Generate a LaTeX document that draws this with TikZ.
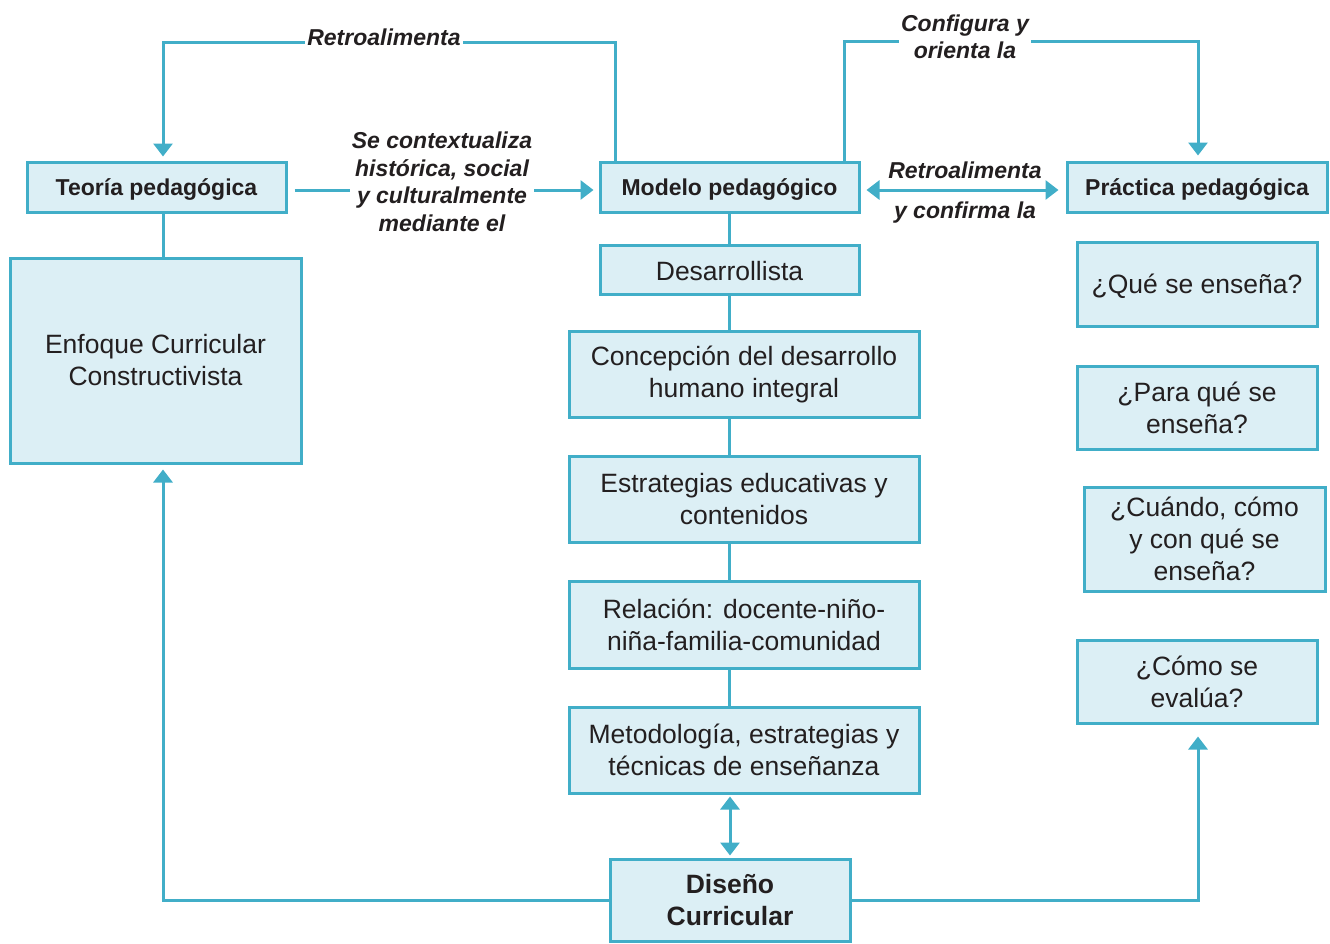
\documentclass[tikz,border=0pt]{standalone}
\usepackage{fontspec}
\setmainfont{Liberation Sans}
\usetikzlibrary{arrows.meta}
\definecolor{linec}{HTML}{41AEC8}
\definecolor{boxc}{HTML}{DCEFF5}
\definecolor{ink}{HTML}{231F20}
\newcommand\regtxt{\fontsize{26.5}{32}\selectfont}
\newcommand\boldtxt{\fontsize{23}{28}\selectfont\bfseries}
\newcommand\bigboldtxt{\fontsize{26.5}{32}\selectfont\bfseries}
\newcommand\lbltxt{\fontsize{23}{27.5}\selectfont\bfseries\itshape}
\begin{document}
\begin{tikzpicture}[x=1pt,y=-1pt,
  box/.style 2 args={draw=linec, line width=3pt, fill=boxc, text=ink,
    align=center, inner sep=0pt, minimum width=#1, minimum height=#2},
  regbox/.style 2 args={box={#1}{#2}, font=\regtxt,
    execute at begin node={\rule{0pt}{23pt}}},
  multibox/.style 2 args={box={#1}{#2}, font=\regtxt,
    execute at begin node={\rule{0pt}{33pt}}},
  boldbox/.style 2 args={box={#1}{#2}, font=\boldtxt,
    execute at begin node={\rule{0pt}{22.5pt}}},
  conn/.style={draw=linec, line width=3pt},
  tip/.style={-{Triangle[width=19pt,length=13pt]}},
  both/.style={{Triangle[width=19pt,length=13pt]}-{Triangle[width=19pt,length=13pt]}},
  lbl/.style={text=ink, font=\lbltxt, align=center, inner sep=2pt}]
\useasboundingbox (0,0) rectangle (1330,943);

% boxes
\node[boldbox={259}{50}] (teoria) at (156.5,187) {Teoría pedagógica};
\node[multibox={291}{205}] (enfoque) at (155.5,360.5) {Enfoque Curricular\\Constructivista};
\node[boldbox={259}{50}] (modelo) at (729.5,187) {Modelo pedagógico};
\node[regbox={259}{49}] (desarr) at (729.5,269.5) {Desarrollista};
\node[multibox={350}{86}] (concep) at (744,374) {Concepción del desarrollo\\humano integral};
\node[multibox={350}{86}] (estrat) at (744,499) {Estrategias educativas y\\contenidos};
\node[multibox={350}{87}] (relac) at (744,624.5) {Relación: docente-niño-\\niña-familia-comunidad};
\node[multibox={350}{86}] (metod) at (744,750) {Metodología, estrategias y\\técnicas de enseñanza};
\node[multibox={240}{82}, font=\bigboldtxt] (diseno) at (730,900) {Diseño\\Curricular};
\node[boldbox={260}{50}] (practica) at (1197,187) {Práctica pedagógica};
\node[regbox={240}{84}] (que) at (1197,284) {¿Qué se enseña?};
\node[multibox={240}{83}] (para) at (1197,407.5) {¿Para qué se\\enseña?};
\node[multibox={241}{104}] (cuando) at (1204.5,539) {¿Cuándo, cómo\\y con qué se\\enseña?};
\node[multibox={240}{83}] (como) at (1197,681.5) {¿Cómo se\\evalúa?};

% turning points of the outer connectors
\coordinate (rt) at (163,42);
\coordinate (cr) at (1198,41);

% model feeds back to theory
\draw[conn, tip, shorten >=4pt] ([xshift=17pt]modelo.north west) |- (rt) -- (rt |- teoria.north);
\node[lbl, fill=white] (l1) at (384,37) {Retroalimenta};

% theory contextualised through the model
\draw[conn, tip, shorten <=7pt, shorten >=5pt] ([yshift=-3pt]teoria.east) -- ([yshift=-3pt]modelo.west);
\node[lbl, fill=white] (l2) at (442,182) {Se contextualiza\\histórica, social\\y culturalmente\\mediante el};

% model shapes practice
\draw[conn, tip, shorten >=5pt] ([xshift=-16pt]modelo.north east) |- (cr) -- (cr |- practica.north);
\node[lbl, fill=white] (l3) at (965,37) {Configura y\\orienta la};

% practice and model exchange
\draw[conn, both, shorten <=6pt, shorten >=7pt] ([yshift=-3pt]modelo.east) -- ([yshift=-3pt]practica.west);
\node[lbl] (l4) at (965,170) {Retroalimenta};
\node[lbl] (l5) at (965,213) {y confirma la};

% vertical chains
\draw[conn] (teoria.south -| rt) -- (enfoque.north -| rt);
\draw[conn] (modelo.south) -- (desarr.north);
\draw[conn] (desarr.south) -- (desarr.south |- concep.north);
\draw[conn] (concep.south -| desarr.south) -- (desarr.south |- estrat.north);
\draw[conn] (estrat.south -| desarr.south) -- (desarr.south |- relac.north);
\draw[conn] (relac.south -| desarr.south) -- (desarr.south |- metod.north);
\draw[conn, both, shorten <=2pt, shorten >=2pt] (metod.south -| diseno.north) -- (diseno.north);

% curricular design back to the approach and to evaluation
\draw[conn, tip, shorten >=5pt] (diseno.west) -| (enfoque.south -| rt);
\draw[conn, tip, shorten >=12pt] (diseno.east) -| (cr |- como.south);
\end{tikzpicture}
\end{document}
